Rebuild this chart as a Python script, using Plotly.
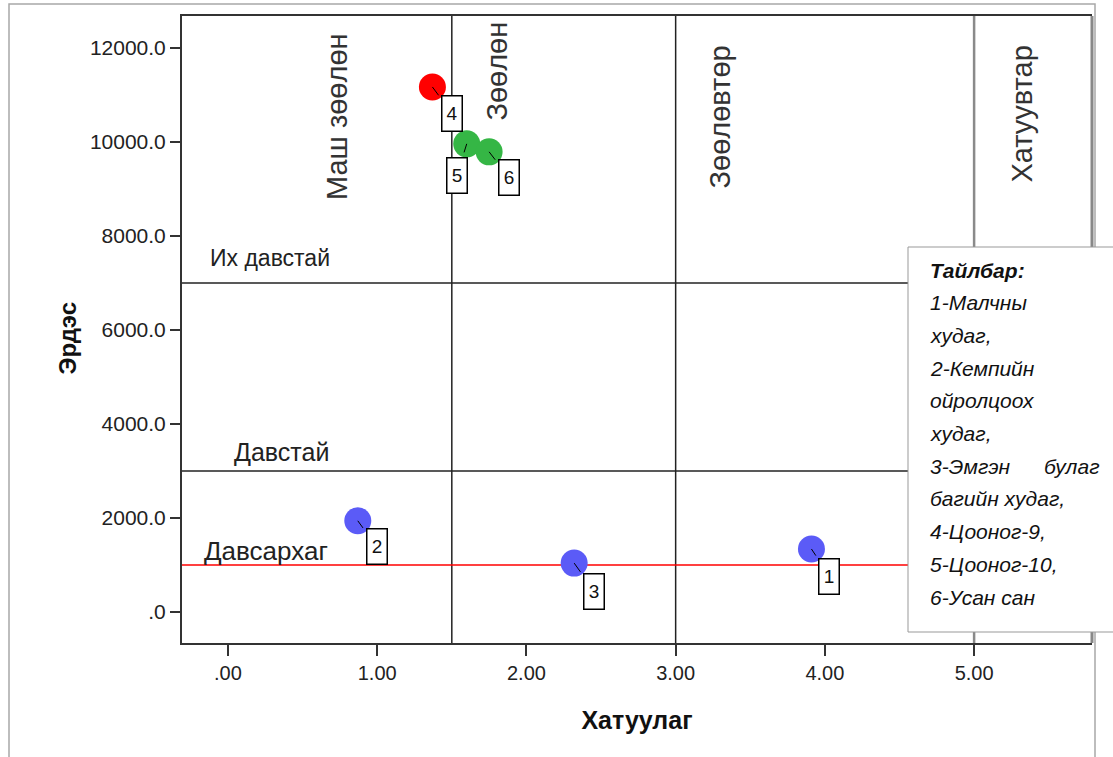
import plotly.graph_objects as go

# ---------------- data ----------------
point_ids = ["1", "2", "3", "4", "5", "6"]
hardness = [3.91, 0.87, 2.32, 1.37, 1.60, 1.75]          # Хатуулаг
mineral = [1340, 1940, 1040, 11170, 9960, 9790]          # Эрдэс
point_colors = ["#5b5bf7", "#5b5bf7", "#5b5bf7", "#ff0000", "#35b645", "#35b645"]

x_tickvals = [0, 1, 2, 3, 4, 5]
x_ticktext = [".00", "1.00", "2.00", "3.00", "4.00", "5.00"]
y_tickvals = [0, 2000, 4000, 6000, 8000, 10000, 12000]
y_ticktext = [".0", "2000.0", "4000.0", "6000.0", "8000.0", "10000.0", "12000.0"]

hardness_bounds = [1.5, 3.0]      # black vertical class boundaries
hardness_bound_gray = [5.0]       # gray boundary
mineral_bounds = [7000, 3000]     # black horizontal boundaries
mineral_red = [1000]              # red line

hardness_classes = ["Маш зөөлөн", "Зөөлөн", "Зөөлөвтөр", "Хатуувтар"]
hardness_class_x = [0.73, 1.80, 3.30, 5.32]
hardness_class_y = [10550, 11510, 10530, 10600]

mineral_classes = ["Их давстай", "Давстай", "Давсархаг"]
mineral_class_x = [0.28, 0.36, 0.255]
mineral_class_y = [7530, 3400, 1300]
mineral_class_size = [23, 25, 26]

legend_title = "Тайлбар:"
legend_lines = ["1-Малчны", "худаг,", "2-Кемпийн", "ойролцоох", "худаг,",
                "3-Эмгэн", "багийн худаг,", "4-Цооног-9,", "5-Цооног-10,", "6-Усан сан"]

# label offsets (pixels) of the numbered boxes relative to each point
label_dx = [18, 19, 20, 20, -10, 20]
label_dy = [27, 26, 28, 27, 32, 26]

# ---------------- figure ----------------
W, H = 1113, 757
ML, MR, MT, MB = 182, 21, 16, 114
PW, PH = W - ML - MR, H - MT - MB


def px_x(px):
    return (px - ML) / PW


def px_y(py):
    return (H - MB - py) / PH


FONT = "Liberation Sans, Arial, sans-serif"

fig = go.Figure()
fig.add_trace(go.Scatter(
    x=hardness, y=mineral, mode="markers",
    marker=dict(size=27, color=point_colors, line=dict(width=0)),
    text=point_ids, hoverinfo="text+x+y", showlegend=False,
))

shapes = []
for xv in hardness_bounds:
    shapes.append(dict(type="line", xref="x", yref="paper", x0=xv, x1=xv, y0=0, y1=1,
                       line=dict(color="#222222", width=1.5), layer="below"))
for xv in hardness_bound_gray:
    shapes.append(dict(type="line", xref="x", yref="paper", x0=xv, x1=xv, y0=0, y1=1,
                       line=dict(color="#8a8a8a", width=2.5), layer="below"))
for yv in mineral_bounds:
    shapes.append(dict(type="line", xref="paper", yref="y", x0=0, x1=1, y0=yv, y1=yv,
                       line=dict(color="#222222", width=1.5), layer="below"))
for yv in mineral_red:
    shapes.append(dict(type="line", xref="paper", yref="y", x0=0, x1=1, y0=yv, y1=yv,
                       line=dict(color="#ff0000", width=1.5), layer="below"))
# right border of plot (gray)
shapes.append(dict(type="line", xref="paper", yref="paper", x0=1, x1=1, y0=0, y1=1,
                   line=dict(color="#888888", width=3)))
# outer frame
shapes.append(dict(type="rect", xref="paper", yref="paper",
                   x0=px_x(9), x1=px_x(1095), y0=px_y(800), y1=px_y(4),
                   line=dict(color="#a8a8a8", width=1.5), fillcolor="rgba(0,0,0,0)"))
# legend box
shapes.append(dict(type="rect", xref="paper", yref="paper",
                   x0=px_x(908), x1=px_x(1125), y0=px_y(632), y1=px_y(247),
                   line=dict(color="#999999", width=1), fillcolor="white", layer="above"))

annotations = []
# numbered boxes
for xi, yi, t, dx, dy in zip(hardness, mineral, point_ids, label_dx, label_dy):
    annotations.append(dict(
        x=xi, y=yi, xref="x", yref="y", text=t, showarrow=True,
        ax=dx, ay=dy, arrowhead=0, arrowwidth=1, arrowcolor="#000000",
        startstandoff=6,
        bordercolor="#000000", borderwidth=1.5, borderpad=3, bgcolor="white",
        width=13, height=28, font=dict(family=FONT, size=19, color="#111111"),
    ))
# hardness classes (rotated)
for t, xv, yv in zip(hardness_classes, hardness_class_x, hardness_class_y):
    annotations.append(dict(x=xv, y=yv, xref="x", yref="y", text=t, showarrow=False,
                            textangle=-90, font=dict(family=FONT, size=29, color="#333333")))
# mineral classes
for t, xv, yv, s in zip(mineral_classes, mineral_class_x, mineral_class_y, mineral_class_size):
    annotations.append(dict(x=xv, y=yv, xref="x", yref="y", text=t, showarrow=False,
                            font=dict(family=FONT, size=s, color="#222222")))
# legend text
LEG_X = px_x(928)
LEG_SIZE = 21
annotations.append(dict(x=LEG_X, y=px_y(270), xref="paper", yref="paper", xanchor="left",
                        yanchor="middle", text="<b><i>" + legend_title + "</i></b>", showarrow=False,
                        font=dict(family=FONT, size=LEG_SIZE, color="#111111")))
for i, line in enumerate(legend_lines):
    annotations.append(dict(x=LEG_X, y=px_y(270 + 32.7 * (i + 1)), xref="paper", yref="paper",
                            xanchor="left", yanchor="middle", text="<i>" + line + "</i>",
                            showarrow=False, font=dict(family=FONT, size=LEG_SIZE, color="#111111")))
annotations.append(dict(x=px_x(1102), y=px_y(270 + 32.7 * 6), xref="paper", yref="paper",
                        xanchor="right", yanchor="middle", text="<i>булаг</i>",
                        showarrow=False, font=dict(family=FONT, size=LEG_SIZE, color="#111111")))
# y-axis title (placed a bit below plot centre, as in the source)
annotations.append(dict(x=px_x(52), y=px_y(338), xref="paper", yref="paper",
                        text="<b>Эрдэс</b>", textangle=-90, showarrow=False,
                        font=dict(family=FONT, size=24, color="#111111")))

fig.update_layout(
    width=W, height=H,
    margin=dict(l=ML, r=MR, t=MT, b=MB),
    plot_bgcolor="white", paper_bgcolor="white",
    showlegend=False,
    shapes=shapes, annotations=annotations,
    font=dict(family=FONT, color="#222222"),
)
fig.update_xaxes(
    range=[-0.308, 5.79], tickvals=x_tickvals, ticktext=x_ticktext,
    ticks="outside", ticklen=11, tickwidth=2, tickcolor="#333333",
    showline=True, linecolor="#333333", linewidth=2, mirror=True,
    showgrid=False, zeroline=False,
    tickfont=dict(family=FONT, size=20, color="#222222"),
    title=dict(text="<b>Хатуулаг</b>", font=dict(family=FONT, size=25, color="#111111"), standoff=28),
)
fig.update_yaxes(
    range=[-660, 12680], tickvals=y_tickvals, ticktext=y_ticktext,
    ticks="outside", ticklen=10, tickwidth=2, tickcolor="#333333",
    showline=True, linecolor="#333333", linewidth=2,
    showgrid=False, zeroline=False,
    tickfont=dict(family=FONT, size=21, color="#222222"),
)

fig.write_html("out.html", config={"displayModeBar": False},
               post_script="document.body.style.margin='0';document.body.style.overflow='hidden';")
